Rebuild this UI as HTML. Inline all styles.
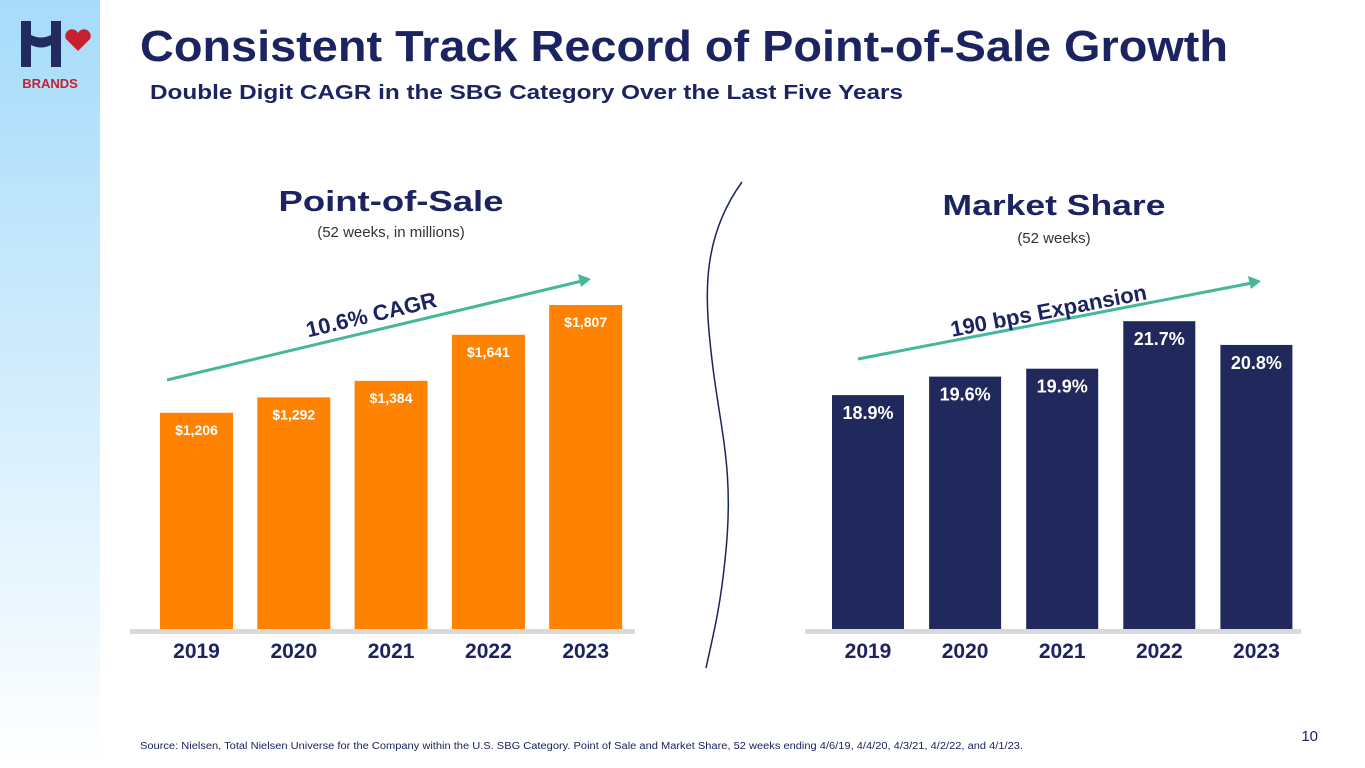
<!DOCTYPE html>
<html><head><meta charset="utf-8"><style>
body{margin:0;width:1365px;height:768px;overflow:hidden;background:#fff;font-family:"Liberation Sans",sans-serif;}
svg{display:block}
</style></head><body>
<svg width="1365" height="768" viewBox="0 0 1365 768">
<defs><linearGradient id="sb" x1="0" y1="0" x2="0" y2="1"><stop offset="0" stop-color="#a6dbfa"/><stop offset="1" stop-color="#ffffff"/></linearGradient></defs>
<rect x="0" y="0" width="100" height="768" fill="url(#sb)"/>
<g>
<path d="M21 21 h10 v14 q10 5 20 0 v-14 h10 v46 h-10 v-22 q-10 5 -20 0 v22 h-10z" fill="#232a5f"/>
<path d="M78 51 l-12 -12 a6 6 0 0 1 12 -6 a6 6 0 0 1 12 6z" fill="#c8202f"/>
<text x="50" y="88" text-anchor="middle" font-size="13" font-weight="bold" fill="#c8202f">BRANDS</text>
</g>
<text x="140" y="61" font-size="44" font-weight="bold" fill="#1b2461" textLength="1088" lengthAdjust="spacingAndGlyphs">Consistent Track Record of Point-of-Sale Growth</text>
<text x="150" y="99" font-size="20" font-weight="bold" fill="#1b2461" textLength="753" lengthAdjust="spacingAndGlyphs">Double Digit CAGR in the SBG Category Over the Last Five Years</text>
<text x="391" y="211" text-anchor="middle" font-size="29" font-weight="bold" fill="#1b2461" textLength="225" lengthAdjust="spacingAndGlyphs">Point-of-Sale</text>
<text x="391" y="237" text-anchor="middle" font-size="15" fill="#333">(52 weeks, in millions)</text>
<text x="1054" y="215" text-anchor="middle" font-size="29" font-weight="bold" fill="#1b2461" textLength="223" lengthAdjust="spacingAndGlyphs">Market Share</text>
<text x="1054" y="243" text-anchor="middle" font-size="15" fill="#333">(52 weeks)</text>
<path d="M742 182 C 700 240, 705 300, 712 360 C 720 430, 735 470, 725 560 C 720 610, 712 640, 706 668" fill="none" stroke="#1b2461" stroke-width="1.5"/>
<rect x="130" y="629" width="505" height="5" fill="#d9d9d9"/>
<rect x="805" y="629" width="496" height="5" fill="#d9d9d9"/>
<line x1="167" y1="380" x2="582" y2="281" stroke="#45b79a" stroke-width="3"/>
<polygon points="591,279 578,274 581,287" fill="#45b79a"/>
<text transform="translate(373,322) rotate(-13.4)" text-anchor="middle" font-size="22" font-weight="bold" fill="#1b2461">10.6% CAGR</text>
<line x1="858" y1="359" x2="1252" y2="283" stroke="#45b79a" stroke-width="3"/>
<polygon points="1261,281 1248,276 1251,289" fill="#45b79a"/>
<text transform="translate(1050,318) rotate(-10.9)" text-anchor="middle" font-size="22" font-weight="bold" fill="#1b2461">190 bps Expansion</text>
<g id="pos"></g><g id="share"></g>
<text x="140" y="749" font-size="10" fill="#1b2461" textLength="883" lengthAdjust="spacingAndGlyphs">Source: Nielsen, Total Nielsen Universe for the Company within the U.S. SBG Category. Point of Sale and Market Share, 52 weeks ending 4/6/19, 4/4/20, 4/3/21, 4/2/22, and 4/1/23.</text>
<text x="1318" y="741" text-anchor="end" font-size="15" fill="#1b2461">10</text>
</svg>
<script>
const years = ["2019","2020","2021","2022","2023"];
const posValues = [1206,1292,1384,1641,1807];
const posLabels = ["$1,206","$1,292","$1,384","$1,641","$1,807"];
const shareValues = [18.9,19.6,19.9,21.7,20.8];
const shareLabels = ["18.9%","19.6%","19.9%","21.7%","20.8%"];
const NS="http://www.w3.org/2000/svg";
function mk(tag,attrs,parent,txt){const e=document.createElementNS(NS,tag);for(const k in attrs)e.setAttribute(k,attrs[k]);if(txt!==undefined)e.textContent=txt;parent.appendChild(e);return e;}
const base=629;
function drawChart(gid,vals,labels,x0,step,bw,yScale,color,fs,name){
  const g=document.getElementById(gid);
  vals.forEach((v,i)=>{
    const x=x0+i*step, y=yScale(v);
    const r=mk('rect',{x:x,y:y,width:bw,height:base-y,fill:color},g);
    
    
    const t=mk('text',{x:x+bw/2,y:y+(fs>16?24:22),'text-anchor':'middle','font-size':fs,'font-weight':'bold',fill:'#fff'},g,labels[i]);
    
    
    const yl=mk('text',{x:x+bw/2,y:658,'text-anchor':'middle','font-size':21,'font-weight':'bold',fill:'#1b2461'},g,years[i]);
    
    
  });
}
drawChart('pos',posValues,posLabels,160,97.3,73,v=>base-v*0.1793,'#ff8200',14,'pos');
drawChart('share',shareValues,shareLabels,832,97.1,72,v=>base-(v-10.04)*26.4,'#20285c',18,'share');
</script>
</body></html>
